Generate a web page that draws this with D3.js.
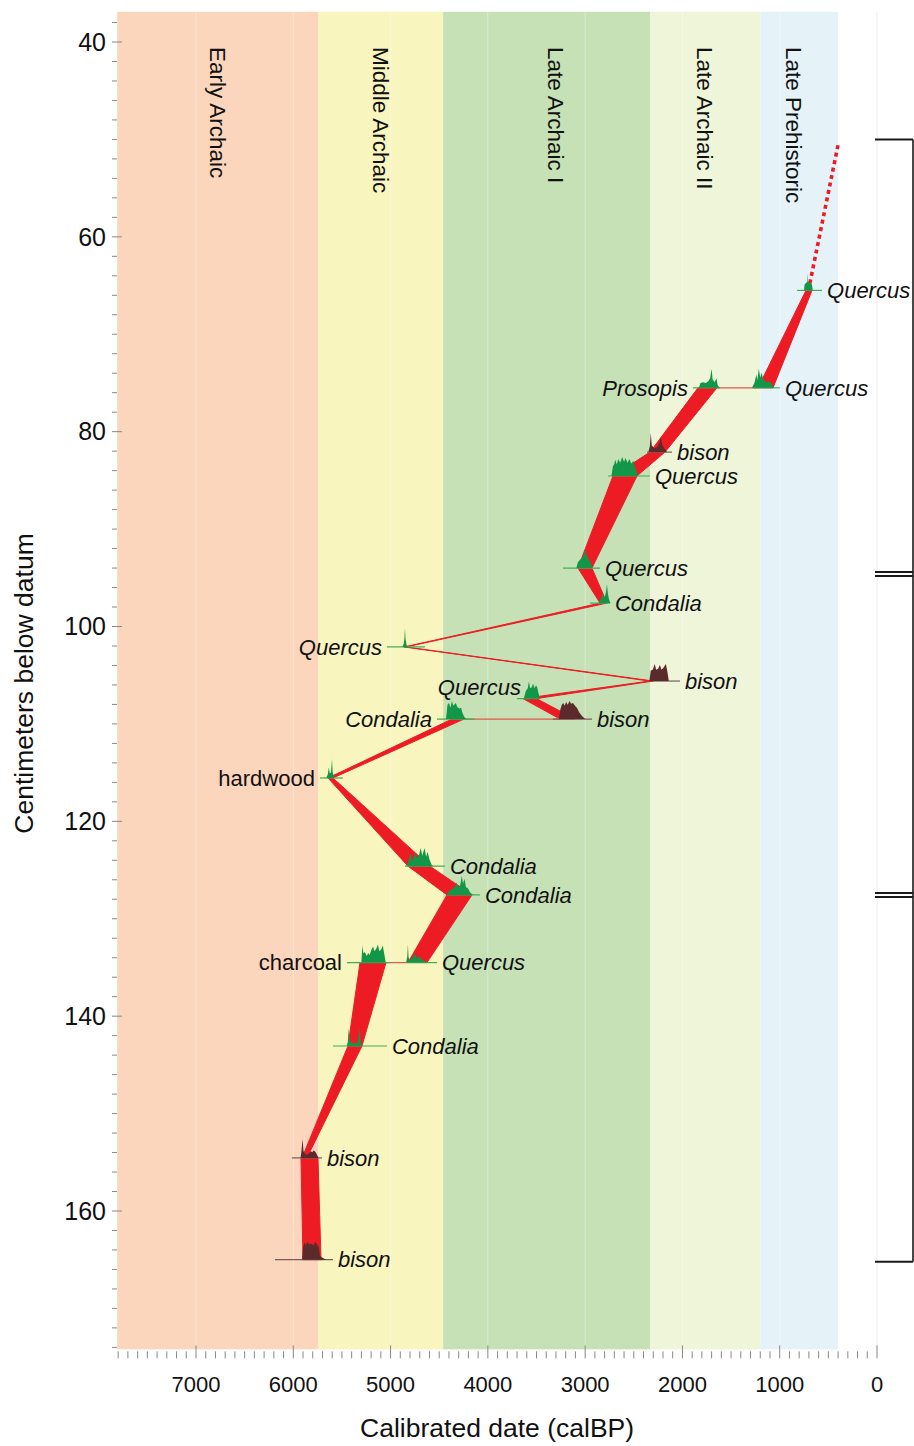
<!DOCTYPE html>
<html>
<head>
<meta charset="utf-8">
<script src="https://cdn.jsdelivr.net/npm/d3@7"></script>
<style>
  body { margin: 0; background: #fff; }
  text { font-family: "Liberation Sans", Arial, Helvetica, sans-serif; fill: #111; }
</style>
</head>
<body>
<svg id="chart" width="914" height="1446"></svg>
<script>
// ---- Cultural periods (calBP) ----
const periodNames  = ["Early Archaic", "Middle Archaic", "Late Archaic I", "Late Archaic II", "Late Prehistoric"];
const periodOld    = [7810, 5740, 4460, 2330, 1200];
const periodYoung  = [5740, 4460, 2330, 1200, 400];
const periodColors = ["#fbd6bc", "#f8f5bf", "#c6e1b6", "#eff5d9", "#e5f3f9"];

// ---- Radiocarbon-dated samples ----
const sampleNames = ["Quercus", "Quercus", "Prosopis", "bison", "Quercus", "Quercus", "Condalia",
  "Quercus", "bison", "Quercus", "bison", "Condalia", "hardwood", "Condalia", "Condalia",
  "charcoal", "Quercus", "Condalia", "bison", "bison"];
const sampleDepth = [65.5, 75.5, 75.5, 82.1, 84.55, 94.0, 97.6, 102.1, 105.6, 107.4, 109.5, 109.5,
  115.55, 124.6, 127.55, 134.5, 134.5, 143.06, 154.55, 165.0];
const sampleMaterial = ["plant", "plant", "plant", "bison", "plant", "plant", "plant", "plant", "bison",
  "plant", "bison", "plant", "plant", "plant", "plant", "plant", "plant", "plant", "bison", "bison"];
const sampleIsTaxon = [true, true, true, true, true, true, true, true, true, true, true, true,
  false, true, true, false, true, true, true, true];
// 2-sigma calibrated range (calBP)
const rangeYoung = [565, 997, 1614, 2107, 2334, 2848, 2745, 4647, 2025, 3485, 2930, 4133,
  5490, 4441, 4081, 5006, 4523, 5037, 5705, 5592];
const rangeOld   = [822, 1275, 1892, 2364, 2765, 3228, 2950, 5037, 2334, 3701, 3331, 4523,
  5726, 4852, 4420, 5448, 4832, 5592, 6014, 6188];
const labelSide = ["R", "R", "L", "R", "R", "R", "R", "L", "R", "L", "R", "L", "L", "R", "R", "L", "R", "R", "R", "R"];

// calibrated probability distributions: [calBP, relative density]
const densities = [
  [[750,0],[745,0.3],[728,0.4],[716,0.45],[712,0.9],[708,0.45],[690,0.4],[670,0.35],[660,0]],
  [[1285,0],[1260,0.25],[1240,0.7],[1230,0.4],[1215,1.0],[1200,0.55],[1185,0.8],[1170,0.45],[1150,0.35],[1125,0.3],[1100,0.35],[1085,0.2],[1065,0.05],[1050,0]],
  [[1830,0],[1815,0.25],[1790,0.3],[1760,0.25],[1735,0.35],[1715,0.5],[1700,1.0],[1690,0.45],[1670,0.3],[1650,0.5],[1638,0.15],[1620,0]],
  [[2350,0],[2335,0.3],[2325,1.0],[2315,0.35],[2290,0.2],[2260,0.25],[2235,0.5],[2222,0.8],[2210,0.4],[2185,0.2],[2160,0]],
  [[2730,0],[2715,0.5],[2700,0.65],[2690,0.85],[2675,0.6],[2660,0.9],[2640,0.7],[2620,1.0],[2600,0.75],[2585,0.95],[2565,0.7],[2545,0.9],[2525,0.65],[2505,0.8],[2490,0.5],[2475,0.3],[2460,0]],
  [[3090,0],[3075,0.3],[3050,0.45],[3020,0.6],[3000,0.95],[2985,0.7],[2965,0.45],[2945,0.3],[2925,0]],
  [[2860,0],[2840,0.2],[2820,0.45],[2800,0.3],[2785,0.6],[2776,1.0],[2766,0.5],[2755,0.2],[2740,0]],
  [[4880,0],[4865,0.15],[4857,0.5],[4852,1.0],[4846,0.4],[4835,0.1],[4820,0]],
  [[2340,0],[2325,0.55],[2305,0.6],[2285,0.9],[2270,0.6],[2250,0.65],[2232,0.85],[2215,0.6],[2195,0.7],[2170,0.9],[2155,0.5],[2140,0]],
  [[3630,0],[3610,0.4],[3590,0.55],[3578,0.9],[3565,0.55],[3548,0.6],[3536,0.8],[3520,0.55],[3505,0.7],[3493,0.6],[3480,0.3],[3465,0]],
  [[3270,0],[3255,0.5],[3240,0.75],[3225,0.85],[3210,0.7],[3195,0.9],[3180,0.75],[3160,0.95],[3145,0.8],[3125,0.85],[3105,0.7],[3085,0.6],[3060,0.35],[3030,0.15],[3000,0]],
  [[4430,0],[4415,0.75],[4400,0.85],[4385,0.6],[4370,0.95],[4355,0.7],[4330,0.85],[4315,0.65],[4295,0.55],[4275,0.6],[4260,0.3],[4240,0.1],[4220,0]],
  [[5660,0],[5645,0.2],[5635,0.55],[5625,0.25],[5612,0.3],[5602,1.0],[5595,0.3],[5580,0]],
  [[4830,0],[4815,0.3],[4790,0.7],[4782,0.3],[4765,0.4],[4752,0.75],[4735,0.45],[4710,0.55],[4690,0.95],[4675,0.55],[4650,0.95],[4635,0.5],[4620,0.75],[4600,0.35],[4580,0.1],[4565,0]],
  [[4420,0],[4400,0.2],[4370,0.3],[4340,0.4],[4322,0.65],[4305,0.4],[4285,0.5],[4268,1.0],[4255,0.6],[4240,0.85],[4225,0.4],[4205,0.35],[4185,0.15],[4165,0.05],[4150,0]],
  [[5300,0],[5290,0.9],[5280,0.5],[5265,0.55],[5245,0.35],[5230,0.5],[5215,0.4],[5195,0.7],[5180,0.85],[5165,0.6],[5145,0.75],[5130,0.95],[5115,0.6],[5095,0.7],[5080,0.9],[5065,0.45],[5050,0]],
  [[4840,0],[4828,0.35],[4822,0.95],[4815,0.3],[4800,0.1],[4785,0.2],[4770,0.3],[4755,0.5],[4740,0.35],[4725,0.2],[4710,0.35],[4690,0.2],[4660,0.1],[4630,0.05],[4615,0]],
  [[5450,0],[5440,0.2],[5430,0.95],[5420,0.3],[5400,0.15],[5360,0.15],[5335,0.2],[5320,0.95],[5310,0.3],[5295,0]],
  [[5925,0],[5915,0.4],[5905,1.0],[5895,0.35],[5870,0.15],[5845,0.2],[5820,0.35],[5805,0.3],[5790,0.4],[5770,0.3],[5750,0.1],[5740,0]],
  [[5910,0],[5900,0.6],[5885,0.9],[5870,0.75],[5855,0.95],[5835,0.8],[5815,0.85],[5795,0.75],[5775,0.95],[5755,0.8],[5740,0.7],[5725,0.2],[5700,0.1],[5680,0.05],[5660,0]]
];

// ---- Age-depth model envelope (cm, calBP) ----
const modelDepth = [65.5, 75.5, 75.5, 82.1, 84.55, 94.0, 97.6, 102.1, 105.6, 107.4, 109.5, 109.5,
  115.55, 124.6, 127.55, 134.5, 134.5, 143.06, 154.55, 154.55, 165.0];
const modelYoung = [668, 1069, 1645, 2179, 2467, 2930, 2776, 4840, 2300, 3500, 3104, 4245,
  5592, 4595, 4163, 4626, 5047, 5294, 5860, 5746, 5715];
const modelOld   = [730, 1223, 1840, 2333, 2714, 3074, 2847, 4860, 2340, 3640, 3258, 4368,
  5643, 4821, 4420, 4821, 5314, 5438, 5910, 5921, 5900];
// upward extrapolation above the top date
const extrapDepth = [50.6, 65.5];
const extrapAge   = [401, 705];

// ---- Stratigraphic zones (right-hand bracket) ----
const zoneBreaks = [50, 94.6, 127.55, 165.2];

// ---- Axes ----
const yTickValues = [40, 60, 80, 100, 120, 140, 160];
const xTickValues = [7000, 6000, 5000, 4000, 3000, 2000, 1000, 0];

// ================= drawing =================
const svg = d3.select("#chart");
const x = d3.scaleLinear().domain([0, 7000]).range([877, 196]);
const y = d3.scaleLinear().domain([40, 160]).range([42, 1211]);
const depthTop = 36.9, depthBottom = 174.2;
const RED = "#ed1c24";
const peakH = 19;

// period bands
const bands = svg.append("g");
periodNames.forEach((name, i) => {
  bands.append("rect")
    .attr("x", x(periodOld[i])).attr("y", y(depthTop))
    .attr("width", x(periodYoung[i]) - x(periodOld[i]))
    .attr("height", y(depthBottom) - y(depthTop))
    .attr("fill", periodColors[i]);
});

// faint vertical grid at every millennium
svg.append("g").selectAll("line").data(xTickValues).join("line")
  .attr("x1", d => x(d)).attr("x2", d => x(d))
  .attr("y1", y(depthTop)).attr("y2", y(depthBottom))
  .attr("stroke", d => d === 0 ? "#ececec" : "#ffffff")
  .attr("stroke-opacity", d => d === 0 ? 1 : 0.35)
  .attr("stroke-width", 1);

// period labels, rotated to read downward (small offsets keep them off the grid lines)
const periodLabelShift = [0, 0, 9, 0, -5];
periodNames.forEach((name, i) => {
  const cx = (x(periodOld[i]) + x(periodYoung[i])) / 2 + periodLabelShift[i];
  svg.append("text")
    .attr("transform", `translate(${cx},47) rotate(90)`)
    .attr("dy", "0.35em")
    .attr("font-size", 22.5)
    .text(name);
});

// age-depth envelope
const model = modelDepth.map((d, i) => ({ d, young: modelYoung[i], old: modelOld[i] }));
const poly = d3.line().x(p => p[0]).y(p => p[1]);
const modelG = svg.append("g");
for (let i = 0; i < model.length - 1; i++) {
  const a = model[i], b = model[i + 1];
  if (a.d === b.d) {
    const from = Math.max(a.young, b.young), to = Math.min(a.old, b.old);
    if (from > to) {
      modelG.append("line")
        .attr("x1", x(from)).attr("x2", x(to))
        .attr("y1", y(a.d)).attr("y2", y(a.d))
        .attr("stroke", "#e2574a").attr("stroke-width", 1.2);
    }
    continue;
  }
  const pts = [[x(a.old), y(a.d)], [x(a.young), y(a.d)], [x(b.young), y(b.d)], [x(b.old), y(b.d)]];
  modelG.append("path")
    .attr("d", poly(pts) + "Z")
    .attr("fill", RED).attr("stroke", RED)
    .attr("stroke-width", 1).attr("stroke-linejoin", "round");
}
modelG.append("path")
  .attr("d", d3.line().x((d, i) => x(extrapAge[i])).y(d => y(d))(extrapDepth))
  .attr("fill", "none").attr("stroke", RED)
  .attr("stroke-width", 3.6).attr("stroke-dasharray", "4,3.6");

// sample ranges, probability distributions and labels
const areaGen = d3.area().x(p => x(p[0]));
const sampleG = svg.append("g");
sampleNames.forEach((name, i) => {
  const d0 = y(sampleDepth[i]);
  const bison = sampleMaterial[i] === "bison";
  sampleG.append("line")
    .attr("x1", x(rangeOld[i])).attr("x2", x(rangeYoung[i]))
    .attr("y1", d0).attr("y2", d0)
    .attr("stroke", bison ? "#7a5b5b" : "#3fae57").attr("stroke-width", 1.2);
  sampleG.append("path")
    .attr("d", areaGen.y0(d0).y1(p => d0 - p[1] * peakH)(densities[i]))
    .attr("fill", bison ? "#5b2a2a" : "#129749");

  const left = labelSide[i] === "L";
  let lx = left ? x(rangeOld[i]) - 5 : x(rangeYoung[i]) + 5;
  let ly = d0;
  if (i === 9) { lx += 9; ly -= 11; }   // raised to clear the bands below
  sampleG.append("text")
    .attr("x", lx).attr("y", ly).attr("dy", "0.35em")
    .attr("text-anchor", left ? "end" : "start")
    .attr("font-size", 22)
    .attr("font-style", sampleIsTaxon[i] ? "italic" : "normal")
    .text(name);
});

// y axis (depth)
const yAxisG = svg.append("g");
d3.range(38, 175, 2).forEach(v => {
  const major = v % 20 === 0;
  yAxisG.append("line")
    .attr("x1", 112).attr("x2", major ? 122 : 117)
    .attr("y1", y(v)).attr("y2", y(v))
    .attr("stroke", "#888").attr("stroke-width", 1);
});
yAxisG.selectAll("text").data(yTickValues).join("text")
  .attr("x", 106).attr("y", d => y(d)).attr("dy", "0.35em")
  .attr("text-anchor", "end").attr("font-size", 25)
  .text(d => d);
svg.append("text")
  .attr("transform", `translate(24,${y(100) + 57}) rotate(-90)`)
  .attr("dy", "0.35em").attr("text-anchor", "middle")
  .attr("font-size", 26.5)
  .text("Centimeters below datum");

// x axis (calendar age)
const xAxisG = svg.append("g");
const axisY = y(depthBottom);
d3.range(0, 7801, 100).forEach(v => {
  const major = v % 1000 === 0;
  xAxisG.append("line")
    .attr("x1", x(v)).attr("x2", x(v))
    .attr("y1", major ? axisY - 4 : axisY + 2).attr("y2", axisY + 9)
    .attr("stroke", "#888").attr("stroke-width", 1);
});
xAxisG.selectAll("text").data(xTickValues).join("text")
  .attr("x", d => x(d)).attr("y", 1384).attr("dy", "0.35em")
  .attr("text-anchor", "middle").attr("font-size", 22)
  .text(d => d);
svg.append("text")
  .attr("x", (x(7810) + x(0)) / 2).attr("y", 1428).attr("dy", "0.35em")
  .attr("text-anchor", "middle").attr("font-size", 26.5)
  .text("Calibrated date (calBP)");

// zone bracket
const brG = svg.append("g").attr("stroke", "#1a1a1a");
const bx0 = 875, bx1 = 913;
brG.append("line")
  .attr("x1", bx1).attr("x2", bx1)
  .attr("y1", y(zoneBreaks[0])).attr("y2", y(zoneBreaks[zoneBreaks.length - 1]))
  .attr("stroke-width", 1.6);
zoneBreaks.forEach((b, i) => {
  const inner = i > 0 && i < zoneBreaks.length - 1;
  const offs = inner ? [-2, 2] : [0];
  offs.forEach(o => {
    brG.append("line")
      .attr("x1", bx0).attr("x2", bx1)
      .attr("y1", y(b) + o).attr("y2", y(b) + o)
      .attr("stroke-width", 2);
  });
});
</script>
</body>
</html>
